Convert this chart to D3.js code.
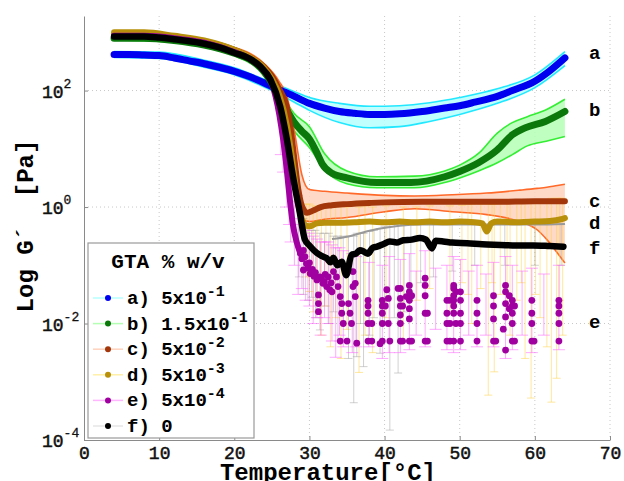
<!DOCTYPE html>
<html><head><meta charset="utf-8">
<script src="https://cdn.jsdelivr.net/npm/d3@7"></script>
<style>body{margin:0;background:#fff}svg{display:block}</style>
</head><body>
<svg id="chart" width="624" height="481"></svg>
<script>
// ---------------- DATA (T in °C, G' as log10 of Pa unless noted) ----------------
const xTicks = [0,10,20,30,40,50,60,70];
const yTickExps = [-4,-2,0,2];

// a) 5x10^-1
const aT   = [4,6,8,10,12,14,16,18,20,22,24,25,26,27,28,30,32,34,36,38,40,42,45,48,50,52,55,57,60,62,64];
const aLog = [2.62,2.62,2.61,2.60,2.56,2.51,2.46,2.40,2.33,2.24,2.13,2.07,2.01,1.96,1.90,1.78,1.70,1.64,1.61,1.59,1.59,1.60,1.64,1.70,1.74,1.80,1.90,2.00,2.16,2.34,2.56];
const aBandT = [4,10,16,20,24,28,30,34,38,42,46,50,55,60,64];
const aHiLog = [2.67,2.66,2.52,2.39,2.19,1.98,1.88,1.78,1.73,1.74,1.79,1.88,2.03,2.27,2.67];
const aLoLog = [2.57,2.55,2.40,2.27,2.06,1.80,1.66,1.45,1.36,1.38,1.47,1.59,1.78,2.05,2.43];

// b) 1.5x10^-1
const bT   = [4,8,12,16,20,22,24,25,26,27,28,29,30,31,31.7,33,35,39,43.5,48,50,52.5,55,57,58.7,61.4,64];
const bLog = [2.90,2.90,2.86,2.78,2.64,2.54,2.32,2.12,1.87,1.66,1.45,1.30,1.17,0.93,0.74,0.58,0.50,0.42,0.42,0.52,0.61,0.76,0.98,1.24,1.36,1.47,1.64];
const bBandT = [4,12,20,24,26,28,30,32,35,39,44,48,50,52.5,55,57,59,61.5,64];
const bHiLog = [2.93,2.89,2.67,2.38,2.00,1.60,1.38,0.92,0.62,0.52,0.53,0.62,0.72,0.92,1.27,1.45,1.55,1.67,1.85];
const bLoLog = [2.87,2.83,2.60,2.24,1.75,1.30,1.02,0.64,0.40,0.33,0.33,0.42,0.50,0.62,0.76,0.90,1.05,1.13,1.21];

// c) 5x10^-2
const cT   = [4,8,12,16,20,22,24,25,26,27,27.5,28,28.5,29,29.7,30.5,31.5,33,35,38,40,45,50,55,60,64];
const cLog = [2.97,2.97,2.92,2.84,2.70,2.58,2.40,2.25,2.02,1.72,1.35,0.82,0.32,0.02,-0.10,-0.06,0.0,0.03,0.05,0.07,0.08,0.09,0.09,0.09,0.10,0.10];
const cBandT = [4,20,24,26,27,28,29,30,32,35,40,44,49,53.6,58,60.3,61.6,63,64];
const cHiLog = [3.00,2.74,2.46,2.15,1.90,1.30,0.55,0.30,0.27,0.24,0.20,0.19,0.21,0.24,0.29,0.32,0.34,0.37,0.39];
const cLoLog = [2.94,2.66,2.34,1.90,1.55,0.50,-0.20,-0.25,-0.21,-0.18,-0.08,-0.03,-0.08,-0.13,-0.25,-0.39,-0.56,-0.79,-0.96];

// d) 5x10^-3
const dT   = [4,8,12,16,20,22,24,25,26,27,27.5,28,28.5,29,29.5,30,31,32,34,36,38,40,42,44,46,48,50,52,53,53.6,54.2,55,58,60,62,63.5,64];
const dLog = [3.00,3.00,2.94,2.86,2.70,2.58,2.38,2.20,1.92,1.40,1.00,0.52,0.05,-0.20,-0.32,-0.33,-0.28,-0.27,-0.27,-0.26,-0.25,-0.26,-0.25,-0.26,-0.25,-0.26,-0.25,-0.26,-0.28,-0.42,-0.28,-0.25,-0.26,-0.25,-0.24,-0.21,-0.19];
// error bars [T, low, high]
const dErr = [[29.6,-1.2,0.05],[30.0,-1.45,0.05],[30.5,-1.8,0.02],[31.0,-1.6,0.0],[31.6,-2.2,0.02],[32.2,-1.7,0.0],[32.8,-2.4,0.03],[33.5,-1.9,0.0],[34.2,-2.6,0.02],[35.0,-2.1,0.0],[36.6,-2.84,0.0],[37.4,-2.2,0.02],[38.4,-2.5,0.0],[40.2,-1.9,0.02],[42.5,-2.3,0.0],[44.3,-1.6,0.0],[46.0,-1.4,0.02],[48.7,-1.8,0.02],[50.3,-1.3,0.03],[51.1,-1.5,0.05],[51.6,-2.0,0.05],[52.8,-1.4,0.05],[53.8,-3.23,0.05],[54.3,-1.3,0.05],[54.6,-2.83,0.05],[55.4,-1.5,0.06],[56.3,-1.7,0.08],[56.7,-2.2,0.08],[57.6,-1.6,0.1],[58.2,-1.3,0.1],[58.7,-2.6,0.1],[59.5,-3.28,0.1],[60.1,-1.5,0.1],[60.7,-1.9,0.12],[61.6,-2.4,0.12],[62.2,-3.35,0.15],[62.9,-2.94,0.15],[63.3,-1.6,0.15],[63.7,-2.2,0.15]];

// e) 5x10^-4
const eT   = [4,8,12,16,20,22,24,25,26,26.5,27,27.4,27.8,28.3,28.8];
const eLog = [2.94,2.94,2.90,2.82,2.66,2.55,2.33,2.12,1.58,1.16,0.62,0.12,-0.30,-0.60,-0.80];
// scattered points [T, G' in Pa]
const eDotsPa = [
 [28.8,0.16],[29.0,0.13],[29.2,0.18],[29.4,0.14],[29.6,0.107],[29.2,0.083],[29.8,0.09],[30.0,0.11],[30.1,0.072],[30.4,0.085],[30.6,0.065],[30.8,0.075],
 [31.0,0.056],[31.4,0.063],[31.6,0.06],[31.8,0.049],[31.2,0.031],[31.2,0.022],[31.2,0.016],[32.0,0.052],[32.1,0.07],[32.3,0.043],[32.7,0.038],[32.5,0.063],
 [32.9,0.05],[33.0,0.035],[33.2,0.078],[33.6,0.063],[33.8,0.043],[34.1,0.029],[34.3,0.022],[34.3,0.015],[34.5,0.01],[34.1,0.005],[35.0,0.005],
 [35.2,0.022],[35.4,0.015],[35.6,0.01],[35.8,0.043],[36.1,0.029],[36.1,0.049],[35.8,0.078],[36.3,0.0046],
 [37.8,0.025],[37.8,0.02],[37.8,0.015],[37.8,0.01],[37.8,0.005],[38.3,0.005],[38.3,0.01],
 [39.7,0.025],[39.7,0.02],[39.7,0.015],[39.7,0.01],[39.7,0.005],[39.4,0.0045],
 [40.3,0.038],[40.5,0.027],[40.5,0.01],[40.1,0.02],[40.7,0.005],
 [42.1,0.04],[42.1,0.027],[42.1,0.02],[42.1,0.014],[42.1,0.01],[42.1,0.005],[41.8,0.04],[42.4,0.02],[42.4,0.005],
 [42.9,0.029],[43.3,0.045],[43.3,0.035],[43.3,0.025],[43.3,0.018],[43.3,0.012],[43.3,0.005],[43.6,0.03],[43.6,0.005],
 [45.4,0.06],[45.4,0.045],[45.4,0.03],[45.4,0.015],[45.4,0.005],[45.7,0.005],[45.7,0.015],
 [48.3,0.025],[48.3,0.015],[48.3,0.01],[48.3,0.005],[48.7,0.025],[48.7,0.01],[48.7,0.005],
 [49.2,0.045],[49.2,0.04],[49.2,0.03],[49.2,0.025],[49.2,0.02],[49.2,0.015],[49.2,0.005],[49.5,0.035],[49.5,0.01],
 [50.1,0.035],[50.1,0.025],[50.1,0.015],[50.1,0.01],[50.1,0.005],
 [52.3,0.025],[52.3,0.015],[52.3,0.01],[52.3,0.005],
 [54.5,0.03],[54.5,0.02],[54.5,0.012],[54.5,0.005],[54.8,0.005],
 [56.1,0.045],[56.1,0.035],[56.1,0.022],[56.1,0.013],[56.1,0.0035],[55.8,0.008],
 [57.0,0.025],[57.0,0.02],[57.0,0.015],[57.0,0.01],[57.0,0.005],[57.3,0.02],[57.3,0.005],[56.6,0.03],[56.6,0.018],
 [59.6,0.025],[59.6,0.015],[59.6,0.01],[59.6,0.005],[59.9,0.005],
 [63.2,0.025],[63.2,0.02],[63.2,0.015],[63.2,0.01],[63.2,0.005]
];
const eErr = [[26.2,0.9,1.8],[26.5,0.6,1.6],[27.0,0.0,1.2],[27.3,-0.3,0.9],[27.5,-0.6,0.6],[28.0,-1.0,0.1],[28.5,-1.5,-0.2],[29.0,-1.4,-0.3],[29.5,-1.6,-0.4],[30.0,-1.7,-0.45],[30.5,-2.0,-0.5],[31.0,-1.9,-0.55],[31.5,-2.2,-0.6],[32.0,-1.9,-0.6],[32.5,-2.0,-0.6],[33.0,-2.3,-0.65],[33.5,-2.58,-0.7],[34.0,-2.2,-0.7],[34.5,-2.4,-0.75],[35.7,-2.5,-0.8],[36.2,-2.4,-0.85],[37.9,-2.4,-0.95],[39.7,-2.6,-1.0],[40.6,-2.5,-0.85],[42.1,-2.5,-0.9],[43.3,-2.45,-0.8],[44.2,-2.2,-1.1],[45.4,-2.4,-0.75],[46.8,-2.1,-1.05],[48.3,-2.45,-1.0],[49.2,-2.5,-0.85],[50.1,-2.45,-0.9],[51.2,-2.2,-1.1],[52.3,-2.4,-1.0],[53.5,-2.2,-1.15],[54.5,-2.4,-0.95],[56.1,-2.6,-0.85],[57.0,-2.45,-1.0],[58.3,-2.2,-1.1],[59.6,-2.5,-1.05],[61.2,-2.2,-1.15],[63.2,-2.45,-1.0]];

// f) 0
const fT   = [4,8,10,12,15.4,18,20,22,23.4,24.8,26.1,27,27.8,28.7,29.4,30,31,31.6,32.3,32.8,33.2,33.7,34.3,34.9,35.6,36.2,36.7,37.3,37.8,38.4,39,39.8,40.7,41.6,42.5,43.6,44.7,45.5,46.3,46.8,47.8,49,51,53,55.4,57.5,59.8,62,63.8];
const fLog = [2.93,2.93,2.91,2.88,2.82,2.74,2.65,2.55,2.42,2.19,1.73,1.16,0.53,-0.08,-0.56,-0.66,-0.79,-0.84,-0.88,-0.95,-0.87,-1.00,-0.94,-1.17,-0.82,-0.80,-0.74,-0.77,-0.80,-0.70,-0.68,-0.64,-0.59,-0.61,-0.57,-0.56,-0.53,-0.56,-0.71,-0.58,-0.59,-0.61,-0.62,-0.64,-0.65,-0.66,-0.66,-0.67,-0.68];
const fUpT   = [33,35,37,39.4,42,45,50,55,60,64];
const fUpLog = [-0.55,-0.51,-0.44,-0.37,-0.32,-0.30,-0.30,-0.30,-0.30,-0.29];
const fErr = [[28.6,-1.2,0.2],[29.2,-1.5,-0.2],[29.8,-1.6,-0.35],[30.3,-1.55,-0.4],[30.8,-1.9,-0.4],[31.4,-2.11,-0.45],[32.0,-1.7,-0.45],[32.6,-2.0,-0.45],[33.2,-1.8,-0.5],[33.8,-2.3,-0.5],[34.5,-2.0,-0.5],[35.2,-2.6,-0.5],[35.9,-3.36,-0.5],[36.3,-2.57,-0.45],[36.8,-2.0,-0.45],[37.2,-2.74,-0.45],[38.0,-2.2,-0.42],[38.6,-1.9,-0.4],[39.4,-2.51,-0.37],[40.0,-2.0,-0.33],[40.7,-3.83,-0.3],[41.3,-1.9,-0.3],[41.8,-2.85,-0.3],[42.6,-1.8,-0.3],[43.5,-1.5,-0.3],[44.8,-1.3,-0.3],[46.5,-1.2,-0.3],[49,-1.1,-0.3],[52,-1.0,-0.3],[56,-1.0,-0.3],[60,-1.0,-0.3],[63.5,-1.0,-0.3]];

// legend & labels
const legendKeys = ["a)","b)","c)","d)","e)","f)"];
const legendMant = ["5x10","1.5x10","5x10","5x10","5x10","0"];
const legendExp  = ["-1","-1","-2","-3","-4",""];
const endLabels  = ["a","b","c","d","e","f"];
const endLabelLog = [2.65,1.67,0.12,-0.26,-1.96,-0.69];

// ---------------- STYLE ----------------
const col = {
  a:"#0000f0", aBand:"#b6ffff", aEdge:"#22e8ff",
  b:"#0a780a", bBand:"#b4ffb4", bEdge:"#33ee33",
  c:"#a3360a", cBand:"#ffd2bd", cEdge:"#ff6a2a",
  d:"#b8900a", dErr:"#ffd23f",
  e:"#a000a0", eErr:"#ff55ff",
  f:"#000000", fErr:"#9a9a9a"
};
const legendDot  = [col.a,col.b,col.c,col.d,col.e,col.f];
const legendLine = ["#b6ffff","#b4ffb4","#ffd2bd","#fff0a8","#ffb6ff","#e6e6e6"];
const MONO = "'Liberation Mono','DejaVu Sans Mono',monospace";

const svg = d3.select("#chart");
const L=84, R=610, TOP=16, B=440;
const x = d3.scaleLinear().domain([0,70]).range([L,R]);
const y = d3.scaleLog().domain([1e-4, Math.pow(10,3.28)]).range([B,TOP]);
const P = v => Math.pow(10,v);

svg.append("rect").attr("width",624).attr("height",481).attr("fill","#fff");

// grid
const grid = svg.append("g").attr("stroke","#c8c8c8").attr("stroke-width",1).attr("stroke-dasharray","1,3");
xTicks.filter(t=>t>0).forEach(t=>grid.append("line").attr("x1",x(t)).attr("x2",x(t)).attr("y1",TOP).attr("y2",B));
yTickExps.filter(e=>e>-4).forEach(e=>grid.append("line").attr("x1",L).attr("x2",R).attr("y1",y(P(e))).attr("y2",y(P(e))));

svg.append("clipPath").attr("id","clip").append("rect").attr("x",L).attr("y",TOP).attr("width",R-L).attr("height",B-TOP);
const plot = svg.append("g").attr("clip-path","url(#clip)");

const zip = (ts,vs)=>ts.map((t,i)=>[t,vs[i]]);
const lineGen = d3.line().x(d=>x(d[0])).y(d=>y(P(d[1]))).curve(d3.curveMonotoneX);
const areaGen = d3.area().x(d=>x(d[0])).y0(d=>y(P(d[1]))).y1(d=>y(P(d[2]))).curve(d3.curveMonotoneX);

function band(ts,lo,hi,fill,edge){
  const data = ts.map((t,i)=>[t,lo[i],hi[i]]);
  plot.append("path").datum(data).attr("d",areaGen).attr("fill",fill).attr("opacity",0.85);
  plot.append("path").datum(zip(ts,hi)).attr("d",lineGen).attr("fill","none").attr("stroke",edge).attr("stroke-width",1.6);
  plot.append("path").datum(zip(ts,lo)).attr("d",lineGen).attr("fill","none").attr("stroke",edge).attr("stroke-width",1.6);
}
function errbars(data,color,op,cw){
  const g = plot.append("g").attr("stroke",color).attr("stroke-opacity",op).attr("stroke-width",1);
  data.forEach(d=>{
    const xx=x(d[0]), y0=y(P(d[1])), y1=y(P(d[2]));
    g.append("line").attr("x1",xx).attr("x2",xx).attr("y1",y0).attr("y2",y1);
    g.append("line").attr("x1",xx-cw/2).attr("x2",xx+cw/2).attr("y1",y0).attr("y2",y0);
    g.append("line").attr("x1",xx-cw/2).attr("x2",xx+cw/2).attr("y1",y1).attr("y2",y1);
  });
}
function thick(ts,vs,color,w){
  plot.append("path").datum(zip(ts,vs)).attr("d",lineGen).attr("fill","none")
    .attr("stroke",color).attr("stroke-width",w).attr("stroke-linejoin","round").attr("stroke-linecap","round");
}

band(aBandT,aLoLog,aHiLog,col.aBand,col.aEdge);
band(bBandT,bLoLog,bHiLog,col.bBand,col.bEdge);
band(cBandT,cLoLog,cHiLog,col.cBand,col.cEdge);

errbars(dErr,col.dErr,0.5,8);
errbars(fErr,col.fErr,0.45,8);
errbars(eErr,col.eErr,0.5,12);

thick(aT,aLog,col.a,7);
thick(bT,bLog,col.b,7);
thick(cT,cLog,col.c,6);
plot.append("path").datum(zip(fUpT,fUpLog)).attr("d",lineGen).attr("fill","none").attr("stroke","#999").attr("stroke-width",2);
thick(dT,dLog,col.d,6);
thick(eT,eLog,col.e,6);
plot.append("g").selectAll("circle").data(eDotsPa).join("circle")
  .attr("cx",d=>x(d[0])).attr("cy",d=>y(d[1])).attr("r",3.4).attr("fill",col.e);
thick(fT,fLog,col.f,6.5);

// axes
const ax = svg.append("g").attr("transform",`translate(0,${B})`)
  .call(d3.axisBottom(x).tickValues(xTicks).tickSizeInner(-4).tickSizeOuter(0).tickPadding(6));
ax.selectAll("text").attr("font-family",MONO).attr("font-size",18).attr("fill","#111")
  .attr("stroke","#111").attr("stroke-width",0.5);
const ay = svg.append("g").attr("transform",`translate(${L},0)`)
  .call(d3.axisLeft(y).tickValues(yTickExps.map(P)).tickSizeInner(-4).tickSizeOuter(0).tickFormat(""));
[ax,ay].forEach(a=>{a.select(".domain").attr("stroke","#8a8a8a");a.selectAll(".tick line").attr("stroke","#8a8a8a");});

yTickExps.forEach(e=>{
  const yy = y(P(e));
  const t = svg.append("text").attr("x",42).attr("y",yy+7).attr("font-family",MONO).attr("font-size",18)
    .attr("fill","#111").attr("stroke","#111").attr("stroke-width",0.5);
  t.append("tspan").text("10");
  t.append("tspan").attr("dy",-10).attr("font-size",13).attr("stroke-width",0.3).text(String(e));
});

// axis titles
svg.append("text").attr("x",328).attr("y",480).attr("text-anchor","middle")
  .attr("font-family",MONO).attr("font-weight","bold").attr("font-size",24).text("Temperature[°C]");
svg.append("text").attr("transform","translate(33,226) rotate(-90)").attr("text-anchor","middle")
  .attr("font-family",MONO).attr("font-weight","bold").attr("font-size",24)
  .attr("xml:space","preserve").style("white-space","pre").text("Log G´  [Pa]");

// end labels
endLabels.forEach((s,i)=>{
  svg.append("text").attr("x",589).attr("y",y(P(endLabelLog[i]))).attr("dy","0.35em")
    .attr("font-family",MONO).attr("font-weight","bold").attr("font-size",19).text(s);
});

// legend
const lg = svg.append("g");
lg.append("rect").attr("x",88).attr("y",243).attr("width",166).attr("height",195)
  .attr("fill","#fff").attr("stroke","#9a9a9a").attr("stroke-width",1.2);
lg.append("text").attr("x",168).attr("y",268).attr("text-anchor","middle")
  .attr("font-family",MONO).attr("font-weight","bold").attr("font-size",21).text("GTA % w/v");
legendKeys.forEach((k,i)=>{
  const by = 304 + i*25.6;
  const cy = by - 6;
  lg.append("line").attr("x1",93).attr("x2",123).attr("y1",cy).attr("y2",cy).attr("stroke",legendLine[i]).attr("stroke-width",1.5);
  lg.append("circle").attr("cx",108).attr("cy",cy).attr("r",3).attr("fill",legendDot[i]);
  const t = lg.append("text").attr("x",127).attr("y",by).attr("font-family",MONO).attr("font-weight","bold").attr("font-size",19);
  t.append("tspan").text(k + " " + legendMant[i]);
  if (legendExp[i]) t.append("tspan").attr("dy",-8).attr("font-size",15).text(legendExp[i]);
});
</script>
</body></html>
